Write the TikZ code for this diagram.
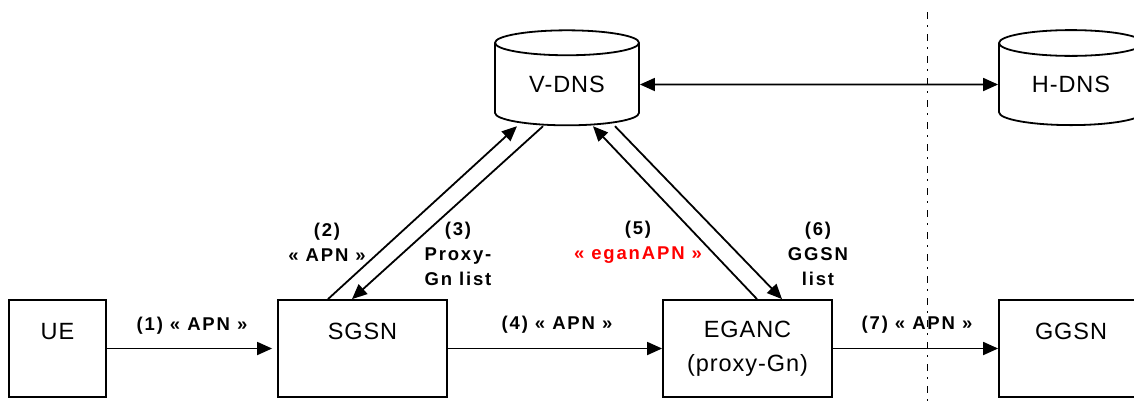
\documentclass[tikz,border=0pt]{standalone}
\usepackage{fontspec}
\setmainfont{Liberation Sans}[LetterSpace=4]
\newfontfamily\lblfont{Liberation Sans}[LetterSpace=10]
\usetikzlibrary{shapes.geometric,arrows.meta}
\tikzset{
 box/.style={draw,line width=1.8pt,minimum width=169pt,minimum height=97pt,inner sep=0pt,align=center,font=\fontsize{23.5}{34}\selectfont},
 db/.style={draw,cylinder,shape border rotate=90,aspect=0.33,minimum width=144pt,minimum height=95pt,inner sep=0pt,line width=1.8pt,font=\fontsize{23.5}{28}\selectfont},
 msg/.style={align=center,font=\lblfont\bfseries\fontsize{18.5}{25}\selectfont},
 flow/.style={line width=1.8pt,-{Triangle[length=15pt,width=13pt]}},
 sepline/.style={line width=1pt,dash pattern=on 7pt off 6pt on 1.5pt off 7.5pt}
}
\begin{document}
\begin{tikzpicture}[x=1pt,y=-1pt]
 \useasboundingbox (0,0) rectangle (1134,408);
 \node[box,minimum width=97pt] (ue) at (57.5,348.5) {UE\\\mbox{}};
 \node[box] (sgsn) at (362.5,348.5) {SGSN\\\mbox{}};
 \node[box] (eganc) at (747.5,348.5) {EGANC\\(proxy-Gn)};
 \node[box,minimum width=144pt] (ggsn) at (1071,348.5) {GGSN\\\mbox{}};
 \node[db] (vdns) at (567,84.5) {V-DNS};
 \node[db] (hdns) at (1071,84.5) {H-DNS};
 \draw[sepline] (927,12) -- (927,408);
 \draw[flow,shorten >=5pt] (ue) -- (sgsn);
 \draw[flow] (sgsn) -- (eganc);
 \draw[flow] (eganc) -- (ggsn);
 \draw[flow,{Triangle[length=15pt,width=13pt]}-{Triangle[length=15pt,width=13pt]}] (vdns) -- (hdns);
 \draw[flow] ([xshift=-34.5pt]sgsn.north) -- ([xshift=-50pt]vdns.south);
 \draw[flow] ([xshift=-24pt]vdns.south) -- ([xshift=-10.5pt]sgsn.north);
 \draw[flow] ([xshift=9.5pt]eganc.north) -- ([xshift=26pt]vdns.south);
 \draw[flow] ([xshift=48pt]vdns.south) -- ([xshift=34.5pt]eganc.north);
 \node[msg] (m1) at (192,326) {(1) « APN »};
 \node[msg] (m2) at (327,242.5) {(2)\\« APN »};
 \node[msg] (m3) at (458,254) {(3)\\Proxy-\\Gn list};
 \node[msg] (m4) at (557,325) {(4) « APN »};
 \node[msg] (m5) at (638,242) {(5)\\\textcolor{red}{« eganAPN »}};
 \node[msg] (m6) at (818,254) {(6)\\GGSN\\list};
 \node[msg] (m7) at (917,325) {(7) « APN »};
\end{tikzpicture}
\end{document}
